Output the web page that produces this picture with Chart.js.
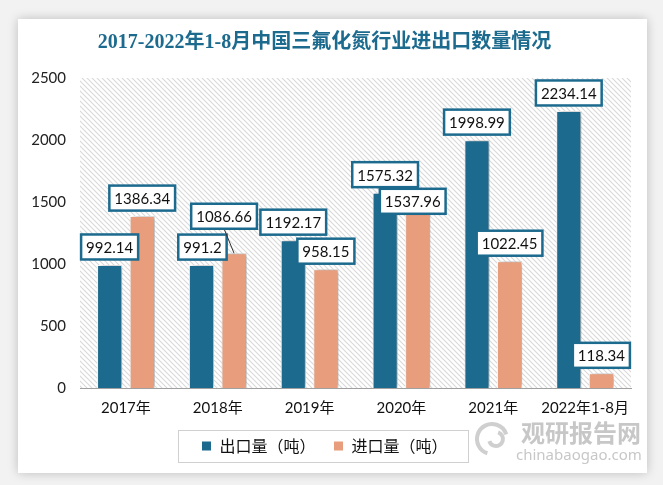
<!DOCTYPE html>
<html>
<head>
<meta charset="utf-8">
<script src="https://cdn.jsdelivr.net/npm/chart.js@4.4.0/dist/chart.umd.min.js"></script>
<style>
  html, body { margin: 0; padding: 0; }
  body { width: 663px; height: 485px; background: #f2f2f2; position: relative; overflow: hidden; }
  #card {
    position: absolute; left: 18px; top: 19px; width: 629px; height: 454px;
    background: #fff; box-shadow: 0 0 10px rgba(0,0,0,0.22);
  }
  #card canvas { position: absolute; left: 0; top: 0; }
</style>
</head>
<body>
<div id="card"><canvas id="chart" width="629" height="454"></canvas></div>
<script>
// chart data
const years = ['2017年', '2018年', '2019年', '2020年', '2021年', '2022年1-8月'];
const exportQty = [992.14, 991.2, 1192.17, 1575.32, 1998.99, 2234.14];
const importQty = [1386.34, 1086.66, 958.15, 1537.96, 1022.45, 118.34];
const yTicks = [0, 500, 1000, 1500, 2000, 2500];

// label box offsets from the bar top (moved by hand in the original)
const exportLabelShift = [[0, -18], [1, -18], [0, -18], [0, -18], [0, -18], [0, -18]];
const importLabelShift = [[0, -18], [-10, -37], [0, -18], [-5, 4], [0, -18], [0, -18]];

const BLUE = '#1c6a8e';
const ORANGE = '#e89d7d';

function makeHatch() {
  const c = document.createElement('canvas');
  c.width = 5; c.height = 5;
  const g = c.getContext('2d');
  g.fillStyle = '#ffffff';
  g.fillRect(0, 0, 5, 5);
  g.strokeStyle = '#d9d9d9';
  g.lineWidth = 1.1;
  g.beginPath();
  g.moveTo(-1, -1); g.lineTo(6, 6);
  g.moveTo(-1, 4); g.lineTo(1, 6);
  g.moveTo(4, -1); g.lineTo(6, 1);
  g.stroke();
  return g.createPattern(c, 'repeat');
}

const hatchBg = {
  id: 'hatchBg',
  beforeDraw(chart) {
    const { ctx, chartArea: a } = chart;
    ctx.save();
    ctx.fillStyle = makeHatch();
    ctx.fillRect(a.left, a.top, a.right - a.left, a.bottom - a.top);
    ctx.restore();
  },
  beforeDatasetsDraw(chart) {
    const ctx = chart.ctx;
    ctx.save();
    ctx.shadowColor = 'rgba(0,0,0,0.35)';
    ctx.shadowBlur = 6;
    ctx.shadowOffsetX = 3;
    ctx.shadowOffsetY = 0;
  },
  afterDatasetsDraw(chart) {
    chart.ctx.restore();
  }
};

const boxLabels = {
  id: 'boxLabels',
  afterDatasetsDraw(chart) {
    const ctx = chart.ctx;
    const shifts = [exportLabelShift, importLabelShift];
    ctx.save();
    ctx.font = '15px Lato, "Noto Sans", sans-serif';
    ctx.textAlign = 'center';
    ctx.textBaseline = 'middle';
    chart.data.datasets.forEach((ds, i) => {
      chart.getDatasetMeta(i).data.forEach((bar, j) => {
        const txt = String(ds.data[j]);
        const [dx, dy] = shifts[i][j];
        const cx = bar.x + dx, cy = bar.y + dy;
        const w = ctx.measureText(txt).width + 10, h = 25;
        if (Math.abs(dy) > 25) {
          ctx.strokeStyle = '#333';
          ctx.lineWidth = 1;
          ctx.beginPath();
          ctx.moveTo(cx, cy + h / 2);
          ctx.lineTo(bar.x, bar.y);
          ctx.stroke();
        }
        ctx.fillStyle = '#fff';
        ctx.fillRect(cx - w / 2, cy - h / 2, w, h);
        ctx.strokeStyle = BLUE;
        ctx.lineWidth = 2.5;
        ctx.strokeRect(cx - w / 2, cy - h / 2, w, h);
        ctx.fillStyle = '#111';
        ctx.fillText(txt, cx, cy + 1);
      });
    });
    ctx.restore();
  }
};

const legendFrame = {
  id: 'legendFrame',
  afterDraw(chart) {
    const ctx = chart.ctx;
    const items = chart.legend.legendHitBoxes;
    if (!items || !items.length) return;
    const first = items[0], last = items[items.length - 1];
    const x0 = first.left - 23, x1 = last.left + last.width + 21;
    const cy = first.top + first.height / 2;
    ctx.save();
    ctx.strokeStyle = '#d0d0d0';
    ctx.lineWidth = 1;
    ctx.strokeRect(Math.round(x0) + 0.5, Math.round(cy - 16) + 0.5, Math.round(x1 - x0), 32);

    // watermark
    ctx.globalAlpha = 0.5;
    ctx.fillStyle = '#8f8f8f';
    ctx.strokeStyle = '#a0a0a0';
    ctx.lineWidth = 4;
    ctx.beginPath();
    ctx.arc(474, 420, 15, Math.PI * 0.6, Math.PI * 1.9);
    ctx.stroke();
    ctx.beginPath();
    ctx.arc(478, 420, 7, Math.PI * 1.6, Math.PI * 0.9);
    ctx.stroke();
    ctx.font = 'bold 24px "Noto Sans CJK SC", sans-serif';
    ctx.textAlign = 'left';
    ctx.textBaseline = 'middle';
    ctx.fillText('观研报告网', 503, 414);
    ctx.font = '15px "Noto Sans", sans-serif';
    ctx.fillText('chinabaogao.com', 498, 437);
    ctx.restore();
  }
};

new Chart(document.getElementById('chart'), {
  type: 'bar',
  data: {
    labels: years,
    datasets: [
      { label: '出口量（吨）', data: exportQty, backgroundColor: BLUE },
      { label: '进口量（吨）', data: importQty, backgroundColor: ORANGE }
    ]
  },
  options: {
    responsive: false,
    animation: false,
    layout: { padding: { left: 0, right: 16, top: 0, bottom: 9 } },
    datasets: {
      bar: {
        categoryPercentage: 0.71,
        barPercentage: 0.77,
        borderColor: '#ffffff',
        borderWidth: 1,
        borderSkipped: 'bottom'
      }
    },
    scales: {
      x: {
        afterFit: s => { s.height = 32; },
        grid: { display: false, drawTicks: false },
        border: { display: true, color: '#a0a0a0', width: 1 },
        ticks: { color: '#111', padding: 11, maxRotation: 0, autoSkip: false,
                 font: { family: 'Lato, "Noto Sans CJK SC", sans-serif', size: 15 } }
      },
      y: {
        min: 0, max: 2500,
        afterBuildTicks: s => { s.ticks = yTicks.map(v => ({ value: v })); },
        afterFit: s => { s.width = 62; },
        grid: { display: false, drawTicks: false },
        border: { display: false },
        ticks: { color: '#222', padding: 14, callback: v => String(v),
                 font: { family: 'Lato, sans-serif', size: 15 } }
      }
    },
    plugins: {
      title: {
        display: true,
        text: '2017-2022年1-8月中国三氟化氮行业进出口数量情况',
        color: BLUE,
        font: { family: '"Liberation Serif", "Noto Sans CJK SC", serif', size: 20, weight: 'bold' },
        padding: { top: 12, bottom: 23 }
      },
      legend: {
        position: 'bottom',
        labels: {
          color: '#111',
          boxWidth: 10, boxHeight: 10,
          padding: 18,
          font: { family: '"Noto Sans CJK SC", sans-serif', size: 16 }
        }
      },
      tooltip: { enabled: false }
    }
  },
  plugins: [hatchBg, boxLabels, legendFrame]
});
</script>
</body>
</html>
